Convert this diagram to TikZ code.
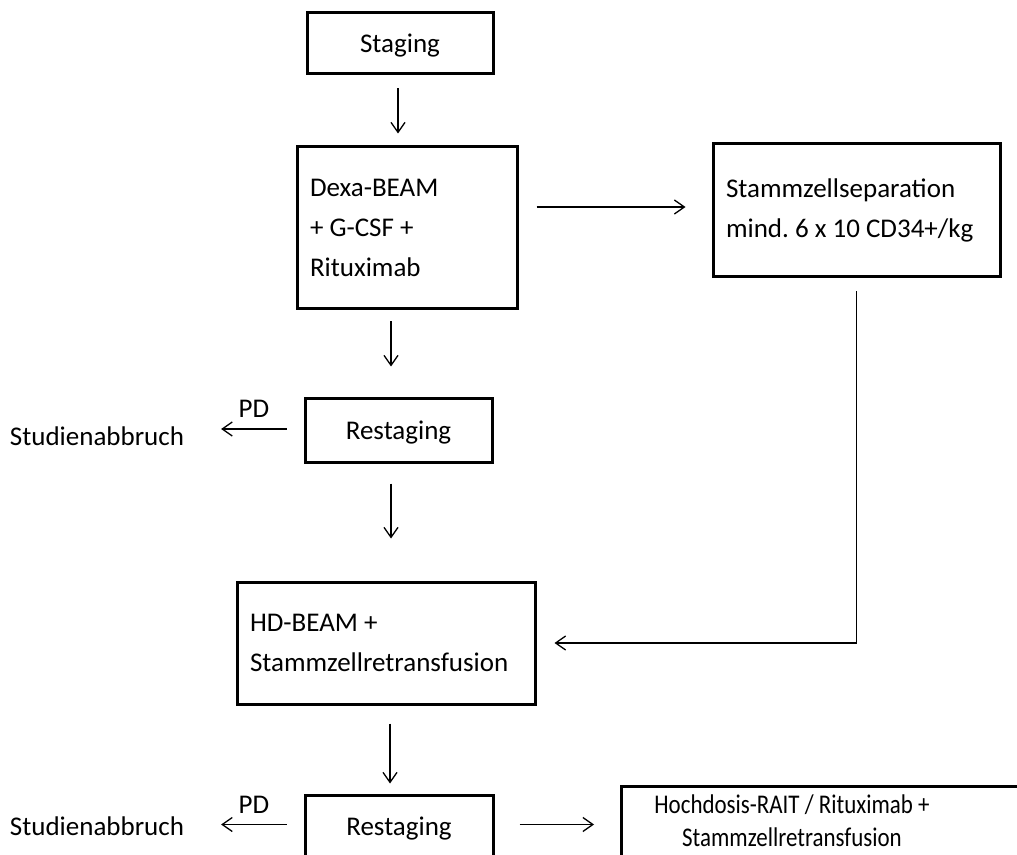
\documentclass[tikz,border=0pt]{standalone}
\usepackage{fontspec}
\setmainfont{Carlito}
\usetikzlibrary{arrows.meta,positioning,calc}

\begin{document}
\begin{tikzpicture}[x=0.5pt,y=-0.5pt,
  font=\fontsize{13.5}{20}\selectfont,
  box/.style={draw, line width=1.5pt, inner xsep=6.5pt},
  arr/.style={line width=0.65pt, -{Straight Barb[length=5pt,width=7pt]}}]
  \useasboundingbox (0,0) rectangle (1017,855);
  \clip (0,0) rectangle (1017,855);

  %% Boxes
  \node[box, text depth=0pt, minimum width=93pt, minimum height=30.5pt] (staging) at (400,43.5) {Staging};
  \node[box, text width=97pt, align=flush left, minimum height=81pt] (dexa) at (407,228)
    {Dexa-BEAM\\+ G-CSF +\\Rituximab};
  \node[box, text width=130.5pt, align=flush left, minimum height=66.5pt] (stamm) at (856.5,210.5)
    {Stammzellseparation\\mind.~6~x~10~CD34+/kg};
  \node[box, text depth=0pt, minimum width=93.5pt, minimum height=31.5pt] (restage1) at (398.5,430.5) {Restaging};
  \node[box, text width=136pt, align=flush left, minimum height=61pt] (hdbeam) at (386,643)
    {HD-BEAM +\\Stammzellretransfusion};
  \node[box, text depth=0pt, minimum width=94pt, minimum height=31.5pt] (restage2) at (399,826.5) {Restaging};

  %% Hochdosis box (runs off the page)
  \node[box, anchor=north west, minimum width=220pt, minimum height=50pt] (hoch) at (620,785) {};
  \node[align=center, xscale=0.85, transform shape, font=\fontsize{13.5}{16.5}\selectfont]
    (hochtxt) at (792,820.5) {Hochdosis-RAIT / Rituximab +\\Stammzellretransfusion};

  %% Study stop
  \node (studien1) at (97,436) {Studienabbruch};
  \node (studien2) at (97,826) {Studienabbruch};

  %% Arrows
  \draw[arr] ($(staging.south)+(-2,13)$) -- ($(staging.south |- dexa.north)+(-2,-12)$);
  \draw[arr] ($(dexa.east |- stamm.west)+(18,-3.5)$) -- ($(stamm.west)+(-26,-3.5)$);
  \draw[arr] ($(dexa.south -| restage1.north)+(-7.5,11)$) -- ($(restage1.north)+(-7.5,-31)$);
  \draw[arr] ($(restage1.west)+(-17,-1.5)$) -- ($(restage1.west -| studien1.east)+(30,-1.5)$)
    node[midway, above=2pt] {PD};
  \draw[arr] ($(restage1.south)+(-7.5,20)$) -- ($(restage1.south |- hdbeam.north)+(-7.5,-42)$);
  \draw[arr] ($(stamm.south)+(0,13)$) |- ($(hdbeam.east)+(18,0)$);
  \draw[arr] ($(hdbeam.south -| restage2.north)+(-9,18)$) -- ($(restage2.north)+(-9,-10)$);
  \draw[arr] ($(restage2.west)+(-17,-2)$) -- ($(restage2.west -| studien2.east)+(30,-2)$)
    node[midway, above=2pt] {PD};
  \draw[arr] ($(restage2.east)+(25,-2)$) -- ($(restage2.east -| hoch.west)+(-26,-2)$);
\end{tikzpicture}
\end{document}
